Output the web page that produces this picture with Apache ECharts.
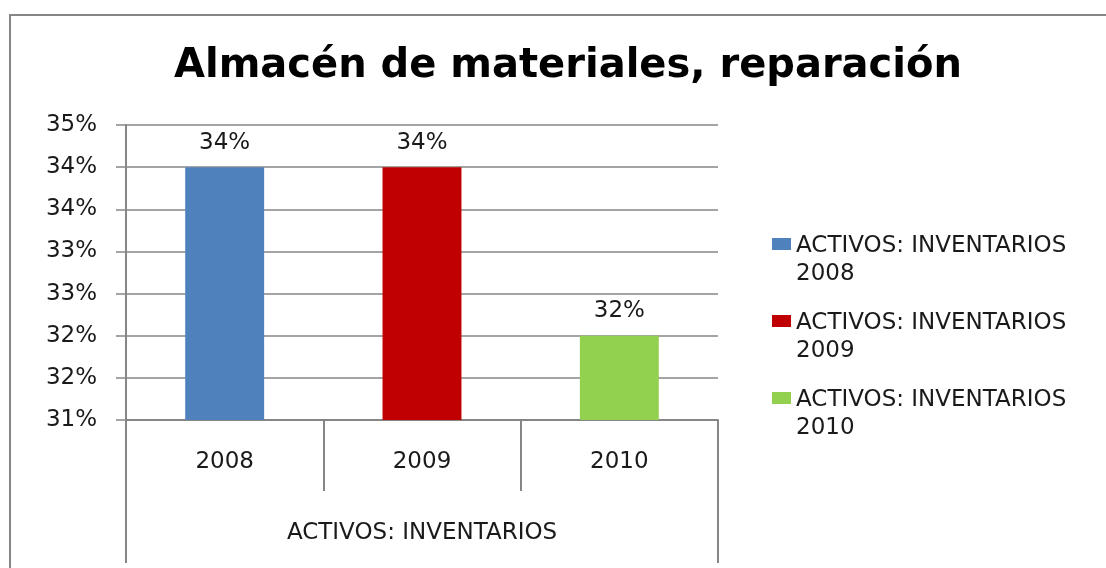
<!DOCTYPE html>
<html>
<head>
<meta charset="utf-8">
<script src="https://cdn.jsdelivr.net/npm/echarts@6/dist/echarts.min.js"></script>
<style>
html,body{margin:0;padding:0;background:#fff;}
#chart{width:1106px;height:568px;}
</style>
</head>
<body>
<div id="chart"></div>
<script>
var titleText = 'Almacén de materiales, reparación';
var categories = ['2008', '2009', '2010'];
var groupLabel = ['ACTIVOS: INVENTARIOS'];
var seriesNames = ['ACTIVOS: INVENTARIOS 2008', 'ACTIVOS: INVENTARIOS 2009', 'ACTIVOS: INVENTARIOS 2010'];
var values = [34, 34, 32];
var colors = ['#4f81bd', '#c00000', '#92d050'];
var yMin = 31, yMax = 34.5, yStep = 0.5;

var FONT = 'DejaVu Sans';
var GRAY = '#868686';
var TXT = '#1a1a1a';
var FS = 23;

var series = seriesNames.map(function (name, i) {
  var d = categories.map(function (c, j) { return j === i ? values[i] : '-'; });
  return {
    name: name,
    type: 'bar',
    stack: 'all',
    barWidth: '40%',
    data: d,
    itemStyle: { color: colors[i] },
    label: {
      show: true,
      position: 'top',
      distance: 13,
      formatter: function (p) { return Math.round(p.value) + '%'; },
      fontFamily: FONT,
      fontSize: FS,
      color: TXT
    }
  };
});

var chart = echarts.init(document.getElementById('chart'), null, { renderer: 'canvas' });
chart.setOption({
  backgroundColor: '#fff',
  animation: false,
  title: {
    text: titleText,
    left: 563,
    textAlign: 'center',
    top: 42,
    textStyle: { fontFamily: FONT, fontSize: 40, fontWeight: 'bold', color: '#000' }
  },
  graphic: [{
    type: 'rect',
    shape: { x: 10, y: 15, width: 1200, height: 700 },
    style: { fill: 'none', stroke: GRAY, lineWidth: 2 },
    silent: true
  }],
  legend: {
    orient: 'vertical',
    left: 767,
    top: 227,
    itemWidth: 19,
    itemHeight: 56,
    itemGap: 21,
    itemStyle: { borderWidth: 0 },
    icon: 'path://M0,0h0.01v0.01h-0.01zM0,6h19v12h-19zM0,55.99h0.01v0.01h-0.01z',
    data: seriesNames,
    formatter: function (n) { var k = n.lastIndexOf(' '); return n.slice(0, k) + '\n' + n.slice(k + 1); },
    textStyle: { fontFamily: FONT, fontSize: FS, color: TXT, lineHeight: 28 }
  },
  grid: { left: 126, right: 388, top: 125, bottom: 148, containLabel: false },
  xAxis: [{
    type: 'category',
    data: categories,
    axisLine: { lineStyle: { color: GRAY, width: 2 } },
    axisTick: { show: true, length: 71, interval: 0, lineStyle: { color: GRAY, width: 2 } },
    axisLabel: { margin: 31, fontFamily: FONT, fontSize: FS, color: TXT }
  }, {
    type: 'category',
    data: groupLabel,
    position: 'bottom',
    axisLine: { show: false },
    axisTick: { show: true, length: 143, interval: 0, lineStyle: { color: GRAY, width: 2 } },
    axisLabel: { margin: 102, fontFamily: FONT, fontSize: FS, color: TXT }
  }],
  yAxis: {
    type: 'value',
    min: yMin,
    max: yMax,
    interval: yStep,
    axisLine: { show: true, lineStyle: { color: GRAY, width: 2 } },
    axisTick: { show: true, length: 10, lineStyle: { color: GRAY, width: 1.5 } },
    splitLine: { show: true, lineStyle: { color: GRAY, width: 1.5 } },
    axisLabel: {
      margin: 29,
      fontFamily: FONT,
      fontSize: FS,
      color: TXT,
      formatter: function (v) { return Math.round(v) + '%'; }
    }
  },
  series: series
});
</script>
</body>
</html>
